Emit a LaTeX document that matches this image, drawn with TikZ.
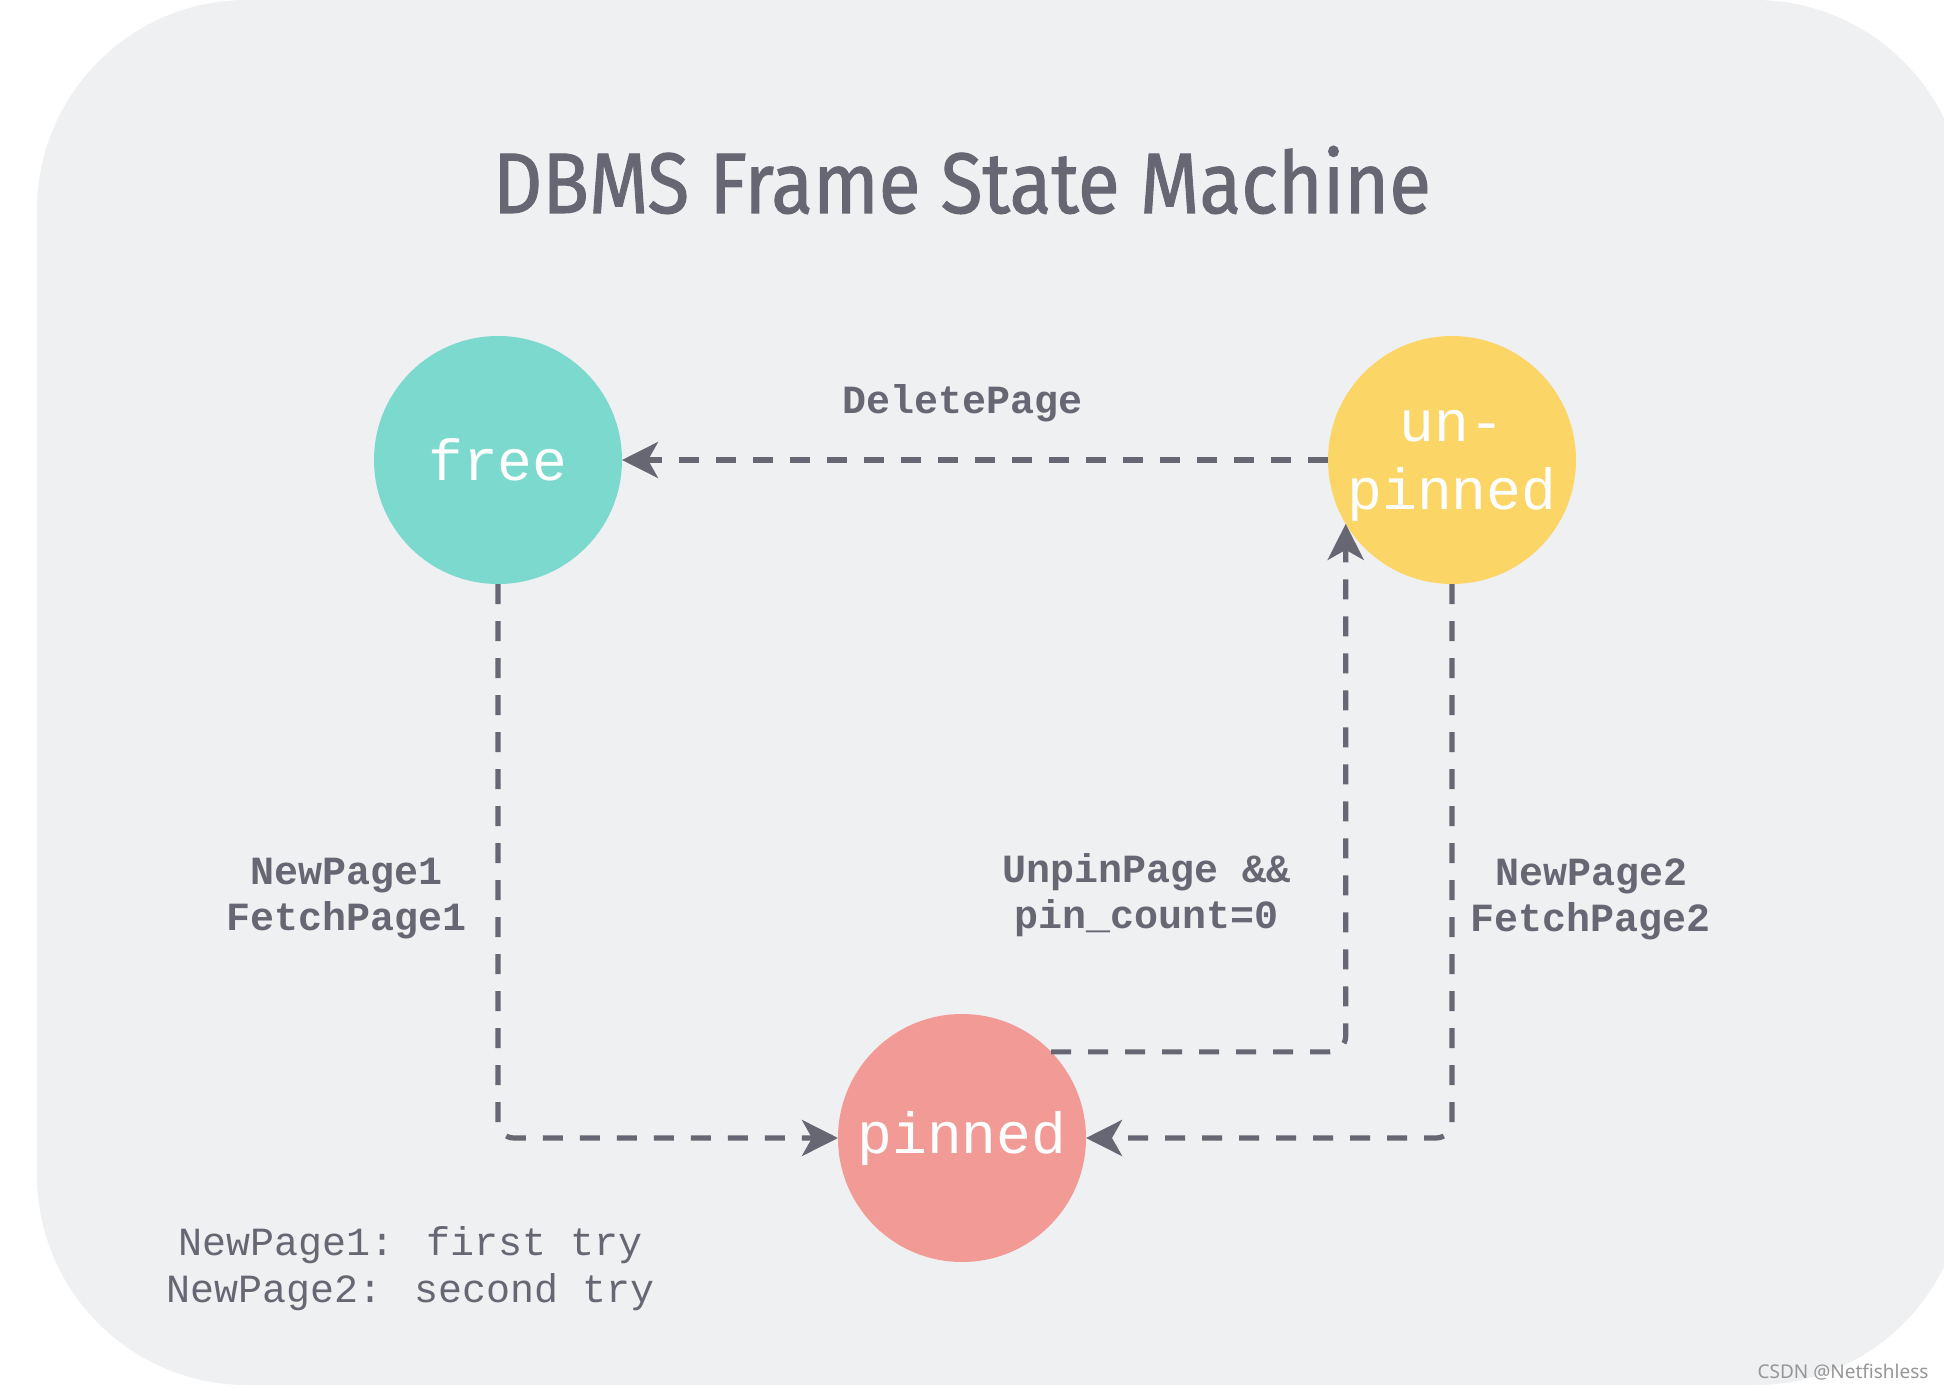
\documentclass[tikz,border=0pt]{standalone}
\usepackage{fontspec}
\setmainfont{Liberation Sans}
\newfontfamily\monofont{Liberation Mono}
\newfontfamily\titlefont{Fira Sans}[FakeBold=1.2]
\newfontfamily\wmfont{Noto Sans}
\usetikzlibrary{arrows.meta}
\definecolor{bgc}{RGB}{239,240,242}
\definecolor{ink}{RGB}{103,102,115}
\definecolor{freec}{RGB}{123,217,205}
\definecolor{unpc}{RGB}{251,214,103}
\definecolor{pinc}{RGB}{242,155,150}
\definecolor{wmc}{RGB}{150,150,150}
\begin{document}
\begin{tikzpicture}[x=0.5pt,y=-0.5pt,
  state/.style={circle, minimum size=124pt, inner sep=0pt, outer sep=0pt, text=white,
    font=\monofont\fontsize{29}{34}\selectfont, align=center},
  trans/.style={draw=ink, line width=2.6pt, dash pattern=on 10pt off 8.5pt,
    -{Stealth[length=18pt,width=18pt,inset=5pt]}, rounded corners=8pt},
  lbl/.style={text=ink, font=\monofont\bfseries\fontsize{20}{23}\selectfont, align=center, inner sep=0pt},
  note/.style={text=ink, font=\monofont\fontsize{20}{23.5}\selectfont, align=center, inner sep=0pt}
]
\useasboundingbox (0,0) rectangle (1944,1391);
\fill[white] (0,0) rectangle (1944,1391);
\begin{scope}
  \clip (0,0) rectangle (1944,1391);
  \fill[bgc, rounded corners=105pt] (37,0) rectangle (1965,1385);
\end{scope}

\node[anchor=base, text=ink, inner sep=0pt] (title) at (962,213)
  {\resizebox{469pt}{33.5pt}{\titlefont DBMS Frame State Machine}};

\node[state, fill=freec] (free) at (498,460) {free};
\node[state, fill=unpc] (unp) at (1452,460) {\rule{0pt}{22pt}un-\\pinned};
\node[state, fill=pinc] (pin) at (962,1138) {pinned};

\draw[trans] (unp) -- (free);
\draw[trans] (free) |- (pin);
\draw[trans] (unp) |- (pin);
\draw[trans] (pin.44.5) -| (unp.211.3);

\node[lbl] (ldel) at (963,403) {DeletePage};
\node[lbl] (lnp1) at (347,899) {NewPage1\\FetchPage1};
\node[lbl] (lunp) at (1147,895) {UnpinPage \&\&\\pin\_count=0};
\node[lbl] (lnp2) at (1591,899) {NewPage2\\FetchPage2};

\node[note] (foot) at (411,1269) {NewPage1: first try\\NewPage2: second try};

\node[text=wmc, font=\wmfont\fontsize{9.5}{11}\selectfont, inner sep=0pt] (wm) at (1843,1372) {CSDN @Netfishless};
\end{tikzpicture}
\end{document}
